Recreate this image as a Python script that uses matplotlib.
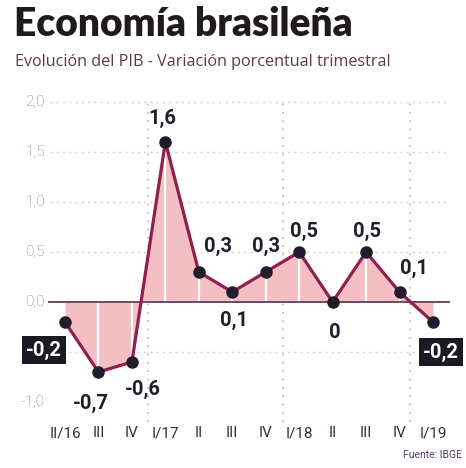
import matplotlib
matplotlib.use('Agg')
import matplotlib.pyplot as plt

# data
quarters = ['II/16', 'III', 'IV', 'I/17', 'II', 'III', 'IV', 'I/18', 'II', 'III', 'IV', 'I/19']
gdp = [-0.2, -0.7, -0.6, 1.6, 0.3, 0.1, 0.3, 0.5, 0.0, 0.5, 0.1, -0.2]
point_labels = ['-0,2', '-0,7', '-0,6', '1,6', '0,3', '0,1', '0,3', '0,5', '0', '0,5', '0,1', '-0,2']
yticks = [2.0, 1.5, 1.0, 0.5, 0.0, -1.0]
ytick_labels = ['2,0', '1,5', '1,0', '0,5', '0,0', '-1,0']
year_breaks = [2.48, 6.52, 10.3]

LINE = '#8e1f4f'
FILL = '#f4bfc2'
DARK = '#231c2c'
NARROW = ['Roboto', 'DejaVu Sans']

fig = plt.figure(figsize=(4.66, 4.68), dpi=100)
fig.patch.set_facecolor('white')
ax = fig.add_axes([0, 0, 1, 1])
ax.set_axis_off()

# map data units to the pixel grid of the reference
px = 33.45
x0 = 65
ax.set_xlim(-x0 / px, (466 - x0) / px)
ax.set_ylim((302 - 468) / 100, 302 / 100)

x = list(range(len(gdp)))

# grid
ax.hlines([2.0, 1.5, 1.0, 0.5, -0.5], -15 / px, 385 / px,
          colors='#e2c9c4', linestyles=(0, (1.5, 3)), lw=1, zorder=1)
ax.vlines(year_breaks, -1.2, 2.03, colors='#c9aaa8', linestyles=(0, (1, 4)), lw=1.2, zorder=1)

# shaded area
ax.fill_between(x, gdp, 0, color=FILL, interpolate=True, lw=0, zorder=2)
ax.vlines(x[1:-1], 0, gdp[1:-1], colors='white', lw=1.6, zorder=2.5)
ax.hlines(0, -17 / px, 385 / px, colors='#6e4a62', lw=1.4, zorder=3)

ax.plot(x, gdp, color=LINE, lw=2.3, zorder=4)
ax.plot(x, gdp, 'o', color=DARK, ms=8, zorder=5)

# y labels
for v, t in zip(yticks, ytick_labels):
    ax.text(-20 / px, v, t, ha='right', va='center', fontsize=11,
            color='#8c6f72', family=NARROW, fontweight='light')

# x labels
for i, q in enumerate(quarters):
    ax.text(i, -1.31, q, ha='center', va='center', fontsize=11,
            color='#3a2c3a', family=NARROW)

# value labels (offsets in pixels from the point)
offsets = [(-21, -28), (-8, -31), (11, -27), (-3, 24), (19, 26), (2, -28),
           (0, 26), (5, 21), (2, -30), (1, 21), (14, 24), (8, -30)]
for i, (v, lab, (dx, dy)) in enumerate(zip(gdp, point_labels, offsets)):
    xi = i + dx / px
    yi = v + dy / 100
    if i in (0, len(gdp) - 1):
        ax.text(xi, yi, lab, ha='center', va='center', fontsize=14.5, fontweight='bold',
                color='white', family=NARROW, zorder=6,
                bbox=dict(facecolor='#1c1824', edgecolor='none', boxstyle='square,pad=0.2'))
    else:
        ax.text(xi, yi, lab, ha='center', va='center', fontsize=14.5, fontweight='bold',
                color=DARK, family=NARROW, zorder=6)

# titles
fig.text(14 / 466, 1 - 24 / 468, 'Economía brasileña', ha='left', va='center',
         fontsize=28, fontweight='heavy', color='#1e1a1e', family=['Lato', 'DejaVu Sans'])
fig.text(15 / 466, 1 - 62 / 468, 'Evolución del PIB - Variación porcentual trimestral',
         ha='left', va='center', fontsize=11.6, color='#5b3a45', family=['Open Sans', 'DejaVu Sans'])
fig.text(462 / 466, 1 - 455 / 468, 'Fuente: IBGE', ha='right', va='center',
         fontsize=7.5, color='#5a3a66', family=NARROW)

fig.savefig('out.png', dpi=100)
